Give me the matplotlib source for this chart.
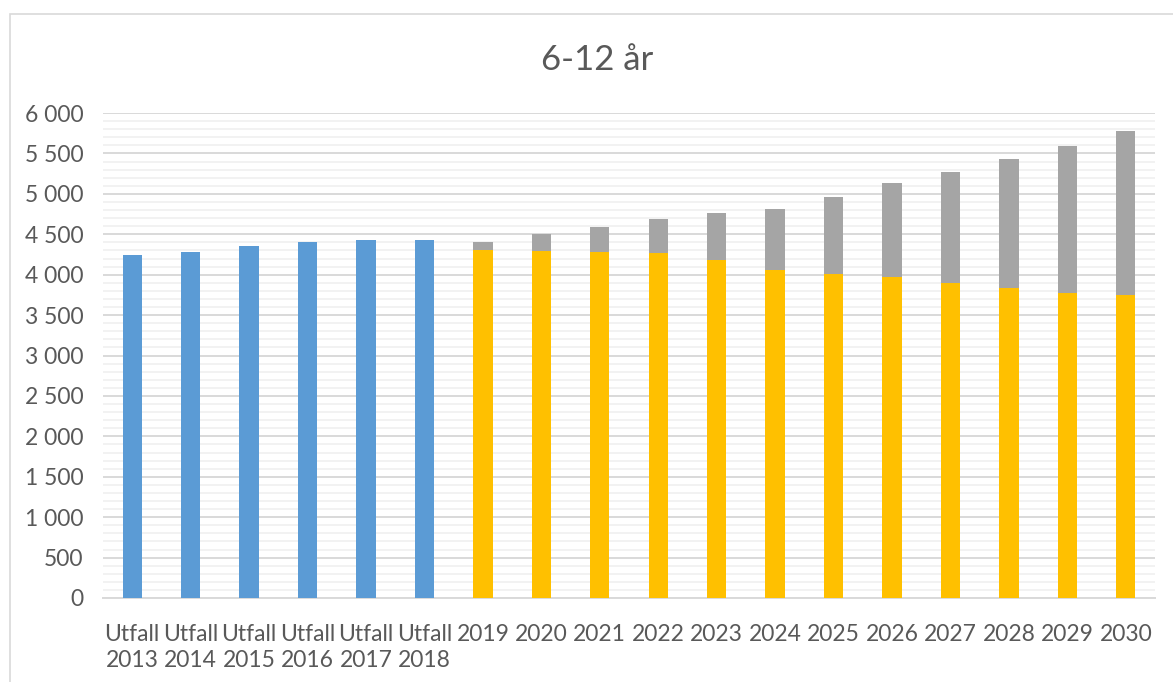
#!/usr/bin/env python3
"""Stacked bar chart: 6-12 år, utfall 2013-2018 and prognos 2019-2030."""

import matplotlib
matplotlib.use("Agg")
import matplotlib.pyplot as plt
from matplotlib.patches import Rectangle
from matplotlib.ticker import FuncFormatter, MultipleLocator
import numpy as np

# ── data ──────────────────────────────────────────────────────────────────────
categories = ["Utfall\n2013", "Utfall\n2014", "Utfall\n2015", "Utfall\n2016",
              "Utfall\n2017", "Utfall\n2018", "2019", "2020", "2021", "2022",
              "2023", "2024", "2025", "2026", "2027", "2028", "2029", "2030"]
utfall   = [4245, 4282, 4356, 4406, 4431, 4431] + [0] * 12
prognos  = [0] * 6 + [4311, 4298, 4286, 4270, 4183, 4059,
                      4010, 3977, 3894, 3833, 3771, 3746]
totalt   = [0] * 6 + [4406, 4501, 4592, 4691, 4765, 4814,
                      4959, 5140, 5276, 5437, 5594, 5780]
tillagg  = [t - p if t else 0 for t, p in zip(totalt, prognos)]

BLUE, YELLOW, GREY = "#5B9BD5", "#FFC000", "#A5A5A5"
TEXT = "#595959"

plt.rcParams["font.family"] = ["Lato", "DejaVu Sans"]

fig = plt.figure(figsize=(11.73, 6.82), dpi=100)
ax = fig.add_axes([103 / 1173, 1 - 598 / 682, 1052 / 1173, 485 / 682])

# chart frame
fig.patches.append(Rectangle((10 / 1173, -0.01), 1.01, 1 - 14 / 682 + 0.01,
                             transform=fig.transFigure, fill=False,
                             edgecolor="#d9d9d9", linewidth=1.2))

x = np.arange(len(categories))
w = 0.33
ax.bar(x, utfall, w, color=BLUE, zorder=3)
ax.bar(x, prognos, w, color=YELLOW, zorder=3)
ax.bar(x, tillagg, w, bottom=prognos, color=GREY, zorder=3)

ax.set_xlim(-0.5, len(categories) - 0.5)
ax.set_ylim(0, 6000)
ax.yaxis.set_major_locator(MultipleLocator(500))
ax.yaxis.set_minor_locator(MultipleLocator(100))
ax.yaxis.set_major_formatter(FuncFormatter(lambda v, _: f"{int(v):,}".replace(",", " ")))
ax.grid(which="minor", axis="y", color="#f2f2f2", linewidth=1.4, zorder=0)
ax.grid(which="major", axis="y", color="#d9d9d9", linewidth=1.4, zorder=1)

for s in ["top", "right", "left"]:
    ax.spines[s].set_visible(False)
ax.spines["bottom"].set_color("#d9d9d9")
ax.spines["bottom"].set_linewidth(1.4)

ax.set_xticks(x, categories)
ax.tick_params(axis="both", which="both", length=0, labelsize=16.5, colors=TEXT)
ax.tick_params(axis="y", pad=14)
ax.tick_params(axis="x", pad=19)
for lbl in ax.get_xticklabels():
    lbl.set_linespacing(1.3)
    lbl.set_verticalalignment("top")

fig.text(597 / 1173, 1 - 60 / 682, "6-12 år", ha="center", va="center",
         fontsize=25, color=TEXT)

fig.savefig("out.png", dpi=100)
